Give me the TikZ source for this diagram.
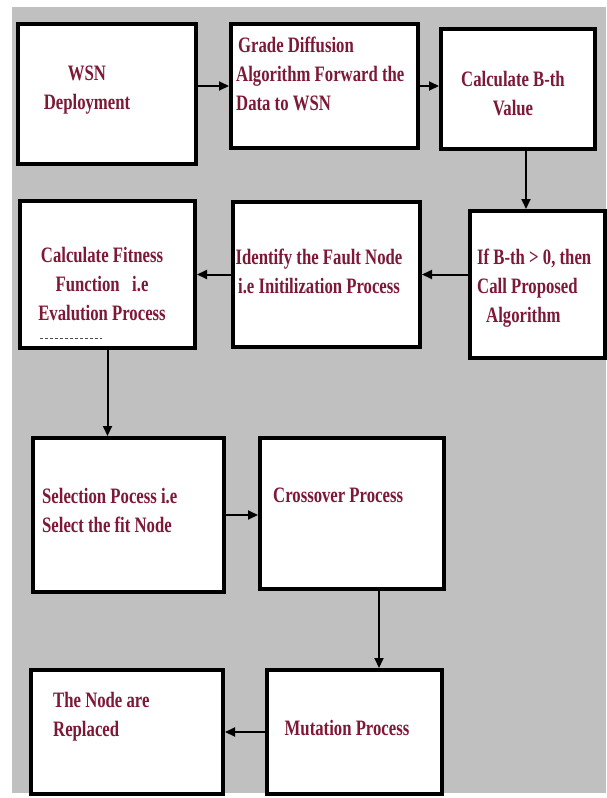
\documentclass[tikz,border=0pt]{standalone}
\usepackage{fontspec}
\setmainfont{Liberation Serif}[FakeStretch=0.76]
\usetikzlibrary{arrows.meta}
\definecolor{panelgray}{RGB}{192,192,192}
\definecolor{stepred}{RGB}{125,25,55}
\tikzset{
  stepbox/.style={draw, line width=4pt, fill=white, anchor=north west, inner sep=0pt},
  steptext/.style={font=\fontsize{22}{29}\selectfont\bfseries, text=stepred, inner sep=0pt},
  flow/.style={-{Triangle[length=10pt,width=9pt]}, line width=2pt},
}

\begin{document}
\begin{tikzpicture}[x=1pt,y=-1pt]
\useasboundingbox (0,0) rectangle (606,798);
\fill[panelgray] (12,7) rectangle (606,793);

% boxes
\node[stepbox, minimum width=178pt, minimum height=140pt] (wsn) at (16,22) {};
\node[stepbox, minimum width=187pt, minimum height=124pt] (grade) at (229,22) {};
\node[stepbox, minimum width=154pt, minimum height=120pt] (bth) at (439,27) {};
\node[stepbox, minimum width=135pt, minimum height=147pt] (call) at (468,209) {};
\node[stepbox, minimum width=175pt, minimum height=147pt] (fitness) at (18,199) {};
\node[stepbox, minimum width=187pt, minimum height=145pt] (fault) at (231,200) {};
\node[stepbox, minimum width=191pt, minimum height=154pt] (select) at (31,436) {};
\node[stepbox, minimum width=184pt, minimum height=151pt] (cross) at (258,436) {};
\node[stepbox, minimum width=175pt, minimum height=124pt] (mutate) at (265,668) {};
\node[stepbox, minimum width=192pt, minimum height=124pt] (replace) at (29,668) {};

% texts
\node[steptext, align=center] (wsntext) at (87,90) {WSN\\Deployment};
\node[steptext, align=left, anchor=west] (gradetext) at (236,74) {\hspace{2pt}Grade Diffusion\\Algorithm Forward the\\Data to WSN};
\node[steptext, align=center] (bthtext) at (513,94) {Calculate B-th\\Value};
\node[steptext, align=left, anchor=west] (calltext) at (477,288) {If B-th > 0, then\\Call Proposed\\\hspace{9pt}Algorithm};
\node[steptext, align=center] (fitnesstext) at (102,284) {Calculate Fitness\\Function\ \ \ i.e\\Evalution Process};
\node[steptext, align=center] (faulttext) at (319,271) {Identify the Fault Node\\i.e Initilization Process};
\node[steptext, align=left, anchor=west] (selecttext) at (42,510) {Selection Pocess i.e\\Select the fit Node};
\node[steptext, anchor=west] (crosstext) at (273,495) {Crossover Process};
\node[steptext, align=left, anchor=west] (replacetext) at (53,717) {The Node are\\Replaced};
\node[steptext] (mutatetext) at (347,728) {Mutation Process};

\draw[densely dashed, line width=0.8pt, gray!60!black] ([xshift=22pt,yshift=12pt]fitness.south west) -- ++(62,0);

% arrows
\draw[flow] (wsn.east |- grade.west) -- (grade.west);
\draw[flow] (grade.east) -- (grade.east -| bth.west);
\draw[flow] ([xshift=8pt]bth.south) -- ([xshift=8pt]bth.south |- call.north);
\draw[flow] (call.west |- fault.east) -- (fault.east);
\draw[flow] (fault.west) -- (fault.west -| fitness.east);
\draw[flow] (fitness.south) -- (fitness.south |- select.north);
\draw[flow] (select.east) -- (select.east -| cross.west);
\draw[flow] ([xshift=27pt]cross.south) -- ([xshift=27pt]cross.south |- mutate.north);
\draw[flow] (mutate.west) -- (mutate.west -| replace.east);
\end{tikzpicture}
\end{document}
